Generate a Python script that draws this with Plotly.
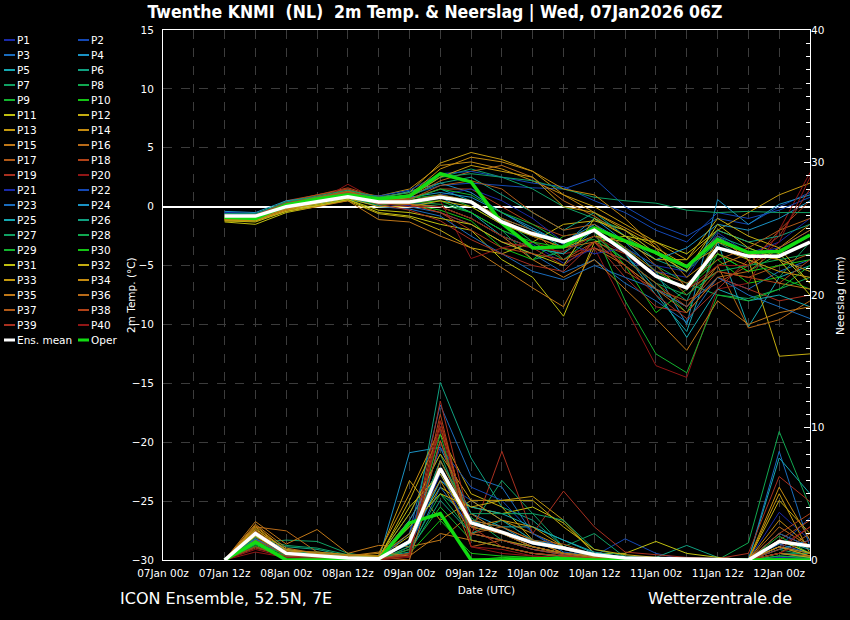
import plotly.graph_objects as go

# ---------------- data ----------------
times = ["2026-01-07 12:00", "2026-01-07 18:00", "2026-01-08 00:00", "2026-01-08 06:00",
         "2026-01-08 12:00", "2026-01-08 18:00", "2026-01-09 00:00", "2026-01-09 06:00",
         "2026-01-09 12:00", "2026-01-09 18:00", "2026-01-10 00:00", "2026-01-10 06:00",
         "2026-01-10 12:00", "2026-01-10 18:00", "2026-01-11 00:00", "2026-01-11 06:00",
         "2026-01-11 12:00", "2026-01-11 18:00", "2026-01-12 00:00", "2026-01-12 06:00"]

member_names = ["P%d" % i for i in range(1, 41)]

# 2m temperature (deg C) per member
t01 = [-0.6,-0.7,0.1,0.5,0.9,0.2,0.1,0.5,-0.5,-2.0,-3.2,-4.8,-3.5,-4.5,-5.5,-6.0,-2.2,-4.0,-3.0,-1.0]
t02 = [-0.5,-0.6,0.3,0.6,1.0,0.6,1.0,1.8,2.0,1.8,1.6,1.5,2.4,0.0,-1.5,-2.5,-1.0,-1.5,0.0,1.2]
t03 = [-0.9,-0.9,0.0,0.3,0.8,0.3,0.0,-0.5,-1.5,-3.0,-4.0,-5.6,-4.5,-6.5,-8.0,-9.8,-6.0,-7.0,-5.5,-4.5]
t04 = [-0.8,-0.8,0.2,0.6,1.1,0.7,1.3,2.0,1.2,-0.5,-1.8,-3.2,-1.0,-3.0,-5.5,-10.0,0.6,-1.5,0.2,1.0]
t05 = [-0.7,-0.9,-0.1,0.4,0.9,0.5,0.6,1.5,0.5,-1.0,-2.0,-3.5,-2.0,-4.0,-7.5,-10.6,-3.0,-10.2,-6.0,-5.0]
t06 = [-1.0,-1.1,-0.2,0.2,0.6,0.1,0.3,0.0,-1.0,-2.5,-3.5,-4.0,-1.5,-3.5,-6.0,-8.0,-2.5,-3.5,-4.5,-5.5]
t07 = [-0.6,-0.7,0.3,0.8,1.3,0.8,0.9,2.5,3.2,2.5,1.5,0.0,-1.0,-2.0,-4.0,-5.5,-3.0,-4.5,-6.0,-3.0]
t08 = [-0.9,-0.8,0.2,0.5,1.0,0.4,0.4,0.2,-0.5,-2.0,-4.5,-3.8,-2.5,-3.5,-5.0,-6.5,-7.5,-7.8,-7.0,-6.0]
t09 = [-0.8,-0.9,0.0,0.4,1.0,0.5,0.7,1.0,0.0,-1.5,-2.5,-3.0,-2.8,-4.5,-6.5,-9.0,-4.0,-5.5,-4.0,-2.5]
t10 = [-1.0,-1.0,-0.1,0.3,0.7,0.2,0.2,-0.3,-1.2,-3.5,-4.5,-2.5,-2.0,-5.0,-9.0,-7.0,-4.5,-6.5,-6.0,-7.0]
t11 = [-1.3,-1.5,-0.5,0.0,0.6,-0.5,-0.8,-1.5,-2.0,-4.5,-6.0,-9.3,-3.0,-2.5,-3.0,-4.0,-2.0,-3.0,-4.0,-6.5]
t12 = [-1.2,-1.2,-0.3,0.1,0.5,-0.6,-0.9,-2.0,-3.5,-4.0,-3.0,-1.5,-1.2,-2.0,-3.5,-5.0,-2.5,-4.5,-12.7,-12.5]
t13 = [-1.1,-1.0,0.1,0.7,1.2,0.8,1.2,3.7,4.6,4.0,3.0,1.0,0.0,-1.5,-3.0,-4.5,-2.0,-0.5,1.0,2.0]
t14 = [-0.9,-1.0,0.0,0.6,1.3,0.9,1.5,3.5,3.8,3.2,2.2,1.0,-0.5,-1.8,-3.2,-6.0,-4.0,-5.0,-3.5,-1.5]
t15 = [-1.1,-1.2,-0.4,0.0,0.5,-1.1,-1.3,-2.5,-3.5,-5.2,-6.9,-8.5,-3.5,-5.0,-7.0,-8.5,-5.0,-4.0,-6.5,-7.0]
t16 = [-1.0,-0.9,0.4,1.0,1.5,0.7,0.8,2.2,3.0,3.5,2.5,0.5,-0.8,-2.5,-5.0,-7.5,-5.0,-10.3,-9.6,-8.0]
t17 = [-0.8,-0.7,0.2,0.8,1.4,0.6,0.5,1.0,0.5,-1.0,-2.0,-4.5,-3.0,-4.0,-6.0,-7.0,-5.5,-6.0,-5.0,-4.0]
t18 = [-0.7,-0.8,0.5,1.0,1.6,0.8,0.7,1.5,1.5,0.0,-1.5,-2.5,-2.0,-5.5,-7.0,-8.0,-6.5,-5.0,-2.0,0.5]
t19 = [-0.9,-0.9,0.3,0.9,1.5,0.3,0.2,-0.5,-1.5,-3.0,-3.5,-5.0,-3.0,-6.0,-8.5,-9.0,-6.0,-7.0,-8.0,-7.5]
t20 = [-0.8,-1.0,-0.3,0.4,1.9,0.5,0.3,0.5,-4.4,-3.5,-3.0,-4.0,-3.5,-8.5,-13.5,-14.5,-7.0,-6.5,-2.0,2.9]
t21 = [-0.5,-0.6,0.2,0.5,1.0,0.4,0.3,1.0,1.5,0.5,-1.0,-3.0,-4.0,-3.5,-5.0,-5.5,-2.5,-4.0,-3.5,-2.0]
t22 = [-0.6,-0.7,0.4,0.7,1.1,0.9,1.4,2.8,3.0,2.5,2.0,1.7,0.5,-0.5,-2.0,-3.0,-0.5,-1.0,-0.3,0.8]
t23 = [-0.7,-0.8,0.0,0.3,0.8,0.0,-0.2,-0.8,-2.5,-4.0,-5.5,-6.2,-5.0,-6.0,-7.0,-8.5,-6.0,-7.5,-8.5,-9.5]
t24 = [-0.4,-0.5,0.5,0.8,1.2,0.6,0.8,1.2,0.8,-0.5,-2.0,-3.0,-1.5,-3.0,-4.5,-3.5,-1.5,-2.0,-1.0,0.5]
t25 = [-0.8,-0.9,0.1,0.6,1.0,0.2,0.4,0.8,-0.5,-2.5,-3.5,-4.0,-2.0,-4.0,-7.0,-11.1,-7.0,-8.0,-7.5,-8.5]
t26 = [-0.9,-0.8,0.2,0.5,1.1,0.5,0.9,2.0,2.5,1.0,-0.5,-2.0,-0.5,-2.5,-4.5,-5.5,-2.0,-3.0,-2.5,-1.5]
t27 = [-0.6,-0.6,0.4,0.9,1.4,0.8,1.2,2.5,2.8,2.5,2.2,1.5,0.8,0.5,0.3,-0.3,-0.5,-0.4,-0.5,-0.5]
t28 = [-1.0,-1.0,0.0,0.4,0.9,0.3,0.5,1.0,0.5,-1.0,-3.0,-4.5,-2.5,-4.5,-6.5,-7.5,-5.5,-5.0,-4.5,-4.0]
t29 = [-0.8,-0.8,0.1,0.5,1.0,0.4,0.6,1.5,1.0,-0.5,-1.5,-3.0,-2.0,-8.0,-12.5,-14.1,-7.5,-8.0,-7.0,-5.0]
t30 = [-0.9,-1.0,-0.1,0.3,0.8,0.2,0.3,0.5,-0.5,-2.0,-3.0,-3.5,-2.0,-3.5,-5.5,-7.0,-4.0,-5.5,-5.0,-4.5]
t31 = [-1.2,-1.3,-0.4,0.1,0.6,-0.3,-0.5,-1.0,-1.5,-3.0,-4.0,-5.0,-1.0,-2.5,-4.0,-5.5,-1.5,-3.5,-4.5,-7.5]
t32 = [-1.1,-1.1,-0.2,0.2,0.7,0.0,0.0,0.5,0.0,-1.5,-2.5,-3.5,-2.5,-3.0,-4.5,-4.5,-1.0,-2.5,-3.5,-6.5]
t33 = [-1.2,-1.2,-0.3,0.3,0.9,0.4,0.8,2.5,3.5,3.0,2.5,0.0,-0.5,-2.0,-4.0,-5.0,-3.5,-4.5,-5.5,-6.0]
t34 = [-1.0,-1.0,0.0,0.5,1.1,0.6,1.0,3.2,4.2,3.8,3.0,1.5,1.0,-1.0,-3.5,-7.0,-3.0,-4.0,-4.5,-5.5]
t35 = [-1.1,-1.1,-0.2,0.4,0.9,0.3,0.2,0.0,-1.0,-2.5,-4.5,-6.0,-4.5,-7.0,-9.5,-12.2,-8.0,-10.0,-9.0,-8.5]
t36 = [-0.9,-0.9,0.2,0.7,1.2,0.5,0.5,1.0,0.5,-1.0,-2.5,-3.5,-3.0,-5.0,-7.0,-9.0,-6.0,-5.5,-3.5,-2.0]
t37 = [-0.8,-0.7,0.3,0.8,1.3,0.6,0.6,1.8,2.2,1.5,-0.5,-2.0,-1.5,-3.5,-5.5,-6.5,-4.5,-3.5,-2.0,-1.0]
t38 = [-0.7,-0.8,0.3,0.7,1.2,0.4,0.2,-0.5,-2.0,-3.5,-4.0,-4.5,-3.5,-4.5,-6.5,-8.5,-5.5,-6.0,-6.5,-4.5]
t39 = [-0.9,-1.0,0.0,0.5,1.0,0.2,-0.3,-1.2,-2.8,-4.0,-5.0,-5.5,-3.0,-5.0,-7.5,-9.5,-7.0,-4.5,-2.5,1.5]
t40 = [-0.8,-0.9,0.1,0.6,1.1,0.3,0.0,0.0,-1.0,-2.5,-3.5,-3.8,-2.5,-4.0,-6.0,-7.0,-5.0,-5.0,-3.0,2.5]

# precipitation (mm) per member
r01 = [0,1.5,0.4,0.3,0.1,0,0.5,9.0,3.0,2.0,1.0,0.5,0.2,0.1,0,0,0,0,3.6,1.5]
r02 = [0,1.2,0.5,0.2,0.1,0,1.0,6.0,4.5,3.0,1.5,0.8,0.3,1.6,0.5,0,0,0,1.0,3.2]
r03 = [0,1.8,0.6,0.3,0.2,0.1,2.0,11.7,6.3,5.5,2.0,0.6,0.3,0.1,0,0,0,0,8.2,1.0]
r04 = [0,2.0,0.7,0.4,0.2,0,8.1,8.5,3.5,2.5,1.2,0.8,0.4,0.2,0,0,0,0,0.5,0.2]
r05 = [0,1.6,0.5,0.3,0.1,0.1,1.5,7.5,3.0,2.5,2.5,1.5,0.5,0.1,0,0,0,0,7.7,5.0]
r06 = [0,1.4,1.0,0.8,0.3,0.1,0.5,13.4,7.7,4.0,3.0,1.0,0.3,0.1,0.2,1.1,0.2,0,1.5,0.5]
r07 = [0,1.3,1.5,1.4,0.5,0.2,3.5,8.0,2.5,6.0,3.5,1.0,2.0,0.2,0,0,0,0,0.8,0.3]
r08 = [0,1.9,0.8,0.4,0.2,0.1,2.5,5.0,3.2,1.5,0.8,0.4,0.2,0,0,0,0,1.3,9.7,4.0]
r09 = [0,1.1,0.3,0.2,0.1,0,0.8,4.0,1.5,1.0,0.5,0.3,0.1,0,0,0,0,0,0.3,0.1]
r10 = [0,1.0,0.2,0.1,0.1,0,2.8,3.5,0,0.2,0.1,0.1,0,0,0,0,0,0,0,0]
r11 = [0,2.1,0.6,0.5,0.3,0.2,1.8,5.5,4.0,3.5,4.0,2.8,0.5,0.5,1.4,0.5,0.2,0,2.0,1.0]
r12 = [0,1.8,0.4,0.4,0.2,0.1,4.5,9.5,5.0,4.0,1.5,0.5,0.3,0,0,0,0,0,4.5,2.0]
r13 = [0,2.4,0.5,0.3,0.2,0.3,6.0,3.0,4.5,4.5,4.8,3.0,0.5,0.2,0,0,0,0,5.0,0.5]
r14 = [0,2.6,0.7,0.5,0.3,0.5,5.0,10.0,2.5,3.0,2.0,1.0,0.4,0.1,0,0,0,0,5.5,1.5]
r15 = [0,2.9,1.2,2.3,0.5,1.1,1.0,1.5,3.5,2.0,1.5,0.5,0.2,0,0,0,0,0,1.0,0.3]
r16 = [0,2.5,2.2,0.6,0.4,0.2,3.0,7.0,1.0,1.5,0.8,0.5,0.3,0.1,0,0,0,0,2.5,1.0]
r17 = [0,2.2,0.6,0.4,0.2,0.1,0.5,10.5,2.0,2.5,1.5,1.2,0.4,0.1,0,0,0,0,0.5,2.0]
r18 = [0,1.7,0.4,0.3,0.1,0.1,0.8,11.0,1.5,1.0,0.5,0.3,0.1,0,0,0,0,0,1.5,3.0]
r19 = [0,0.9,0.3,0.2,0.1,0,0.4,9.0,1.8,8.2,2.0,5.2,2.5,0.6,0.4,0.2,0.1,0.5,6.3,4.4]
r20 = [0,0.6,0.2,0.1,0,0,0.2,10.0,1.0,0.8,0.3,0.2,0.1,0,0,0,0,0,1.0,2.5]
r21 = [0,1.3,0.5,0.3,0.1,0,1.0,6.5,2.0,1.5,0.8,0.4,0.2,0,0,0,0,0,0.2,0.1]
r22 = [0,1.4,0.6,0.4,0.2,0.1,2.0,8.5,5.5,4.5,2.0,0.8,0.3,0.1,0,0,0,0,2.0,1.0]
r23 = [0,1.6,0.3,0.2,0.1,0,0.5,5.5,2.5,2.0,1.0,0.5,0.2,0,0,0,0,0,1.2,0.5]
r24 = [0,1.9,0.8,0.5,0.2,0.1,3.0,7.0,3.0,2.0,1.5,1.0,0.5,0.2,0,0,0,0,0.8,1.5]
r25 = [0,1.5,0.4,0.3,0.2,0.1,1.2,6.0,4.0,3.5,2.5,1.5,0.6,0.2,0,0,0,0,1.5,0.8]
r26 = [0,1.2,0.5,0.6,0.3,0.2,0.6,4.5,2.0,3.0,1.5,0.8,0.3,0.1,0,0,0,0,1.0,0.5]
r27 = [0,1.7,1.1,0.9,0.4,0.1,1.5,7.5,3.5,3.5,3.5,3.0,0.8,0.3,0.1,0,0,0,0.5,0.5]
r28 = [0,1.4,0.5,0.3,0.2,0.1,0.8,5.0,2.0,1.5,1.0,0.5,0.2,0,0,0,0,0,0.3,0.2]
r29 = [0,1.2,0.4,0.2,0.1,0,1.0,9.5,1.5,1.0,0.5,0.2,0.1,0,0,0,0,0,1.8,0.5]
r30 = [0,1.0,0.3,0.2,0.1,0,0.5,3.0,0.5,0.3,0.2,0.1,0,0,0,0,0,0,0.1,0]
r31 = [0,1.8,0.5,0.3,0.2,0.2,4.0,6.5,2.5,2.0,1.0,0.5,0.2,0.1,0.1,0,0,0,1.5,0.5]
r32 = [0,2.0,0.6,0.4,0.3,0.3,2.5,5.0,4.0,4.5,4.5,2.5,0.8,0.4,0.2,0.1,0,0,0.5,0.2]
r33 = [0,2.3,0.8,0.5,0.2,0.2,3.5,8.0,4.5,3.0,2.5,1.0,0.3,0.1,0,0,0,0,1.0,0.3]
r34 = [0,2.5,0.7,0.6,0.4,0.3,2.0,6.0,2.0,1.5,1.0,0.5,0.2,0,0,0,0,0,3.0,1.0]
r35 = [0,2.7,0.9,0.5,0.3,0.6,0.3,2.0,1.5,1.0,0.5,0.3,0.1,0,0,0,0,0,1.0,0.5]
r36 = [0,2.2,0.6,0.4,0.2,0.2,0.0,7.5,3.0,2.5,1.5,0.8,0.3,0.1,0,0,0,0,0.5,0.3]
r37 = [0,1.9,0.5,0.3,0.2,0.1,0.5,9.0,2.5,2.0,1.0,0.5,0.2,0,0,0,0,0,1.5,1.0]
r38 = [0,1.5,0.4,0.2,0.1,0.1,0.3,10.5,2.0,1.5,0.8,0.4,0.1,0,0,0,0,0,2.0,3.5]
r39 = [0,1.0,0.3,0.2,0.1,0,0.5,12.0,2.5,1.0,0.5,0.3,0.1,0,0,0,0,0,0.8,2.5]
r40 = [0,0.8,0.2,0.1,0,0,0.3,10.5,1.0,0.5,0.3,0.1,0,0,0,0,0,0,0.5,1.5]

mean_temp = [-0.8,-0.8,0.0,0.4,0.85,0.4,0.4,0.8,0.4,-1.3,-2.3,-3.0,-2.0,-3.8,-5.9,-6.9,-3.5,-4.2,-4.2,-3.0]
oper_temp = [-0.9,-1.0,0.15,0.65,1.0,0.65,0.9,2.8,2.1,-1.4,-3.5,-3.4,-1.8,-2.9,-3.9,-5.1,-2.8,-3.9,-3.8,-2.4]
mean_prec = [0,2.0,0.5,0.3,0.15,0.1,1.4,6.9,2.8,2.1,1.3,0.9,0.4,0.15,0.1,0.05,0.05,0,1.4,1.05]
oper_prec = [0,1.35,0,0,0,0,2.8,3.5,0,0,0.1,0.1,0,0,0,0,0,0,0,0]

temp_members = [t01,t02,t03,t04,t05,t06,t07,t08,t09,t10,t11,t12,t13,t14,t15,t16,t17,t18,t19,t20,
                t21,t22,t23,t24,t25,t26,t27,t28,t29,t30,t31,t32,t33,t34,t35,t36,t37,t38,t39,t40]
prec_members = [r01,r02,r03,r04,r05,r06,r07,r08,r09,r10,r11,r12,r13,r14,r15,r16,r17,r18,r19,r20,
                r21,r22,r23,r24,r25,r26,r27,r28,r29,r30,r31,r32,r33,r34,r35,r36,r37,r38,r39,r40]

palette = ["#1a2aa8", "#1448b4", "#1a6cbc", "#1a92c4", "#16a8b0", "#10a080", "#10a064", "#10a850",
           "#14b430", "#14c414", "#c0c010", "#c4ac10", "#c49a10", "#c48a10", "#c07818", "#b86a18",
           "#b05a18", "#b04218", "#a83020", "#901616"]
MEAN_COLOR = "#ffffff"
OPER_COLOR = "#12dc12"

FONT = "DejaVu Sans, sans-serif"
TITLE_FONT = "DejaVu Sans Condensed, DejaVu Sans, sans-serif"
FS = 10.5

# ---------------- figure ----------------
fig = go.Figure()

for i, name in enumerate(member_names):
    c = palette[i % 20]
    fig.add_trace(go.Scatter(x=times, y=prec_members[i], mode="lines", name=name,
                             line=dict(color=c, width=1), yaxis="y2", showlegend=False))
for i, name in enumerate(member_names):
    c = palette[i % 20]
    fig.add_trace(go.Scatter(x=times, y=temp_members[i], mode="lines", name=name,
                             line=dict(color=c, width=1), showlegend=False))

fig.add_trace(go.Scatter(x=times, y=oper_prec, mode="lines", name="Oper",
                         line=dict(color=OPER_COLOR, width=3.5), yaxis="y2", showlegend=False))
fig.add_trace(go.Scatter(x=times, y=oper_temp, mode="lines", name="Oper",
                         line=dict(color=OPER_COLOR, width=3.5), showlegend=False))
fig.add_trace(go.Scatter(x=times, y=mean_prec, mode="lines", name="Ens. mean",
                         line=dict(color=MEAN_COLOR, width=3.5), yaxis="y2", showlegend=False))
fig.add_trace(go.Scatter(x=times, y=mean_temp, mode="lines", name="Ens. mean",
                         line=dict(color=MEAN_COLOR, width=3.5), showlegend=False))

# plot area in pixels: x 163..810, y 30..560
L, R, T, B = 163, 810, 30, 560
def px(p):
    return (p - L) / (R - L)
def py(p):
    return (B - p) / (B - T)

# manual two-column legend
shapes = []
annots = []
legend_items = [(n, palette[i % 20], 2) for i, n in enumerate(member_names)]
legend_items += [("Ens. mean", MEAN_COLOR, 3), ("Oper", OPER_COLOR, 3)]
for k, (label, col, w) in enumerate(legend_items):
    row, colno = divmod(k, 2)
    yy = 40 + 15 * row
    x0 = 4 + 74 * colno
    shapes.append(dict(type="line", xref="paper", yref="paper",
                       x0=px(x0), x1=px(x0 + 11), y0=py(yy), y1=py(yy),
                       line=dict(color=col, width=w)))
    annots.append(dict(text=label, xref="paper", yref="paper", x=px(x0 + 10.5), y=py(yy),
                       xanchor="left", yanchor="middle", showarrow=False,
                       font=dict(color="white", size=FS, family=FONT)))

annots.append(dict(text="ICON Ensemble, 52.5N, 7E", xref="paper", yref="paper",
                   x=px(118), y=py(598), xanchor="left", yanchor="middle", showarrow=False,
                   font=dict(color="white", size=16, family=FONT)))
annots.append(dict(text="Wetterzentrale.de", xref="paper", yref="paper",
                   x=px(794), y=py(598), xanchor="right", yanchor="middle", showarrow=False,
                   font=dict(color="white", size=16, family=FONT)))
# axis titles placed as rotated texts
annots.append(dict(text="2m Temp. (°C)", xref="paper", yref="paper",
                   x=px(131), y=py(295), xanchor="center", yanchor="middle", showarrow=False,
                   textangle=-90, font=dict(color="white", size=FS, family=FONT)))
annots.append(dict(text="Neerslag (mm)", xref="paper", yref="paper",
                   x=px(840), y=py(295), xanchor="center", yanchor="middle", showarrow=False,
                   textangle=-90, font=dict(color="white", size=FS, family=FONT)))

grid_col = "#3c3c3c"
fig.update_layout(
    width=850, height=620,
    paper_bgcolor="black", plot_bgcolor="black",
    margin=dict(l=L, r=850 - R, t=T, b=620 - B, autoexpand=False),
    font=dict(family=FONT, color="white", size=FS),
    title=dict(text="<b>Twenthe KNMI  (NL)  2m Temp. & Neerslag | Wed, 07Jan2026 06Z</b>",
               x=435 / 850, xref="container", xanchor="center",
               y=1 - 12 / 620, yref="container", yanchor="middle",
               font=dict(size=17.5, color="white", family=TITLE_FONT)),
    showlegend=False,
    shapes=shapes,
    annotations=annots,
    xaxis=dict(type="date", range=["2026-01-07 00:00", "2026-01-12 06:00"],
               tick0="2026-01-07 00:00", dtick=12 * 3600 * 1000, tickformat="%d%b %Hz",
               showgrid=True, gridcolor=grid_col, griddash="dash", gridwidth=1,
               minor=dict(dtick=6 * 3600 * 1000, showgrid=True, gridcolor=grid_col,
                          griddash="dash", gridwidth=1),
               showline=True, linecolor="white", linewidth=1, mirror=True, automargin=False,
               ticks="", ticklabelstandoff=3, tickfont=dict(size=FS, color="white"),
               title=dict(text="Date (UTC)", standoff=9, font=dict(size=FS, color="white")),
               zeroline=False),
    yaxis=dict(range=[-30, 15], dtick=5, tick0=0,
               showgrid=True, gridcolor=grid_col, griddash="dash", gridwidth=1,
               zeroline=True, zerolinecolor="white", zerolinewidth=1.5,
               showline=True, linecolor="white", linewidth=1, mirror=True, automargin=False,
               ticks="", ticklabelstandoff=6, tickfont=dict(size=FS, color="white")),
    yaxis2=dict(range=[0, 40], dtick=10, tick0=0, overlaying="y", side="right",
                showgrid=False, zeroline=False, automargin=False,
                ticks="inside", ticklen=6, tickcolor="white", tickwidth=1,
                minor=dict(dtick=1, ticks="inside", ticklen=4, tickcolor="white", showgrid=False),
                tickfont=dict(size=FS, color="white")),
)

fig.write_html("out.html", config={"displayModeBar": False},
               post_script="document.body.style.margin='0';document.body.style.background='black';")
